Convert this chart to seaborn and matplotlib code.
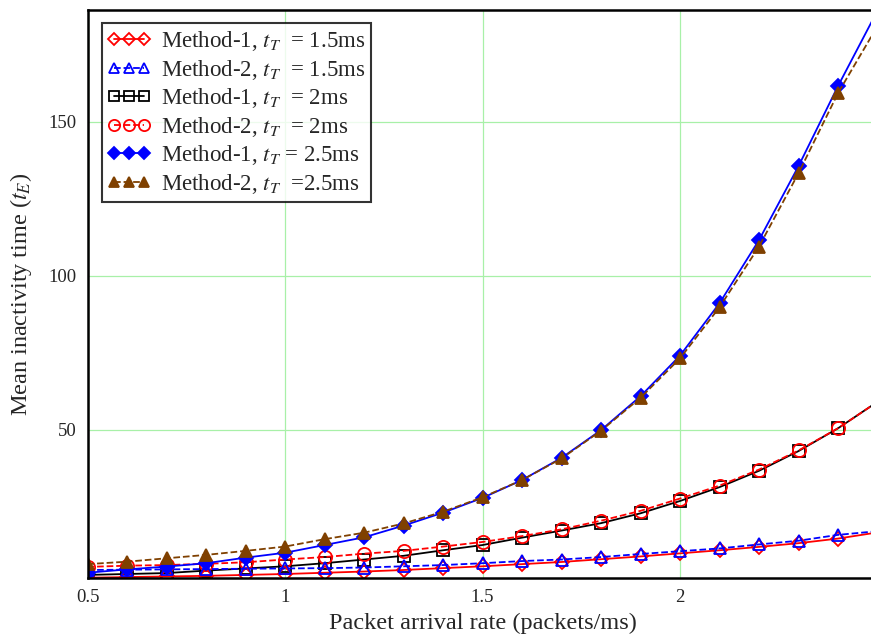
import numpy as np
import pandas as pd
import seaborn as sns
import matplotlib.pyplot as plt

# packet arrival rate (packets/ms)
rate = [0.5, 0.6, 0.7, 0.8, 0.9, 1.0, 1.1, 1.2, 1.3, 1.4, 1.5,
        1.6, 1.7, 1.8, 1.9, 2.0, 2.1, 2.2, 2.3, 2.4, 2.5]

# mean inactivity time
m1_15 = [1.9, 2.1, 2.3, 2.5, 2.8, 3.1, 3.5, 3.9, 4.4, 5.0, 5.6,
         6.3, 7.0, 7.9, 8.8, 9.8, 10.8, 11.9, 13.1, 14.6, 16.6]
m2_15 = [4.4, 4.5, 4.6, 4.7, 4.8, 4.9, 5.0, 5.2, 5.6, 6.0, 6.6,
         7.3, 7.8, 8.6, 9.6, 10.5, 11.4, 12.7, 13.9, 15.8, 17.0]
m1_20 = [2.8, 3.1, 3.4, 4.2, 4.9, 5.6, 6.6, 7.8, 9.0, 10.8, 12.5,
         14.9, 17.2, 19.6, 22.8, 26.8, 31.3, 36.6, 43.0, 50.4, 59.0]
m2_20 = [5.4, 5.8, 6.0, 6.4, 6.9, 7.8, 8.6, 9.7, 10.6, 12.0, 13.5,
         15.4, 17.6, 20.4, 23.6, 27.6, 31.8, 37.0, 43.2, 50.4, 59.0]
m1_25 = [3.5, 4.6, 5.5, 6.6, 8.4, 10.0, 12.5, 15.0, 18.8, 23.0, 27.8,
         33.6, 40.8, 49.8, 60.8, 74.0, 91.0, 111.5, 135.5, 161.5, 186.0]
m2_25 = [6.3, 7.1, 8.2, 9.3, 10.6, 12.0, 14.4, 16.5, 19.5, 23.3, 28.0,
         33.6, 40.6, 49.6, 60.3, 73.1, 89.7, 109.4, 133.2, 159.2, 181.0]

labels = ["Method-1, $t_T$  = 1.5ms", "Method-2, $t_T$  = 1.5ms",
          "Method-1, $t_T$  = 2ms", "Method-2, $t_T$  = 2ms",
          "Method-1, $t_T$ = 2.5ms", "Method-2, $t_T$  =2.5ms"]

sns.set_style("white")
plt.rcParams['font.family'] = ['Liberation Serif', 'DejaVu Serif']
plt.rcParams['mathtext.fontset'] = 'stix'

fig = plt.figure(figsize=(8.71, 6.4), dpi=100)
ax = fig.add_axes([87.5 / 871, 62 / 640, 790 / 871, 568 / 640])

# style per series: color, marker, filled, dashes, markersize
styles = [
    (m1_15, "red", "D", False, (None, None), 7),
    (m2_15, "blue", "^", False, (3, 2.5), 8),
    (m1_20, "black", "s", False, (None, None), 8),
    (m2_20, "red", "o", False, (12, 6), 9.5),
    (m1_25, "blue", "D", True, (None, None), 7),
    (m2_25, "#7f4000", "^", True, (3, 2.5), 9),
]
draw_order = [2, 3, 0, 1, 4, 5]
for i in draw_order:
    vals, col, mk, filled, dash, ms = styles[i]
    sns.lineplot(x=rate, y=vals, ax=ax, color=col, linewidth=1.3,
                 marker=mk, markersize=ms, markevery=list(range(20)),
                 markerfacecolor=col if filled else "none",
                 markeredgecolor=col, markeredgewidth=1.3,
                 linestyle="-" if dash[0] is None else "--",
                 dashes=dash if dash[0] is not None else (1, 0),
                 label=labels[i])

h, l = ax.get_legend_handles_labels()
order = [l.index(lab) for lab in labels]
leg = fig.legend([h[k] for k in order], labels, loc="upper left",
                 bbox_to_anchor=(101.7 / 871, 1 - 23.3 / 640),
                 borderaxespad=0, numpoints=3, fontsize=16.5,
                 markerscale=0.85,
                 frameon=True, fancybox=False, edgecolor="black",
                 handlelength=1.9, handletextpad=0.45, labelspacing=0.2,
                 borderpad=0.25)
leg.get_frame().set_linewidth(1.5)
if ax.get_legend():
    ax.get_legend().remove()

ax.set_xlim(0.5, 2.5)
ax.set_ylim(1.8, 186.2)
ax.set_xticks([0.5, 1, 1.5, 2])
ax.set_xticklabels(["0.5", "1", "1.5", "2"])
ax.set_yticks([50, 100, 150])
ax.tick_params(length=0, labelsize=13.5, pad=8)
ax.grid(True, color="#a8f0a8", linewidth=0.9)
ax.set_axisbelow(True)
for s in ax.spines.values():
    s.set_color("black")
    s.set_linewidth(1.8)

ax.set_xlabel("Packet arrival rate (packets/ms)", fontsize=17.5, labelpad=5)
ax.set_ylabel("Mean inactivity time ($t_E$)", fontsize=17.5, labelpad=10)

fig.savefig("out.png", dpi=100)
